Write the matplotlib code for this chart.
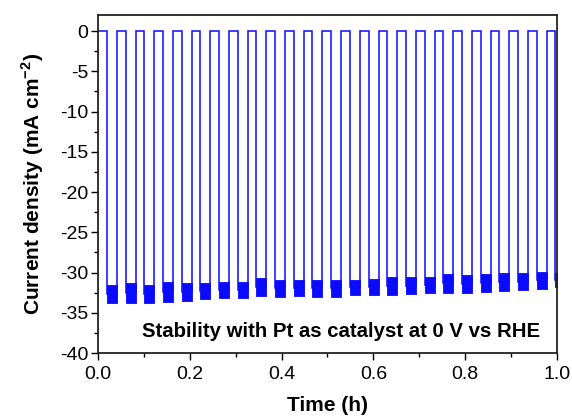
import matplotlib
matplotlib.use('Agg')
import matplotlib.pyplot as plt
from matplotlib.ticker import MultipleLocator
import numpy as np

plt.rcParams['font.family'] = ['Liberation Sans', 'DejaVu Sans']
plt.rcParams['mathtext.fontset'] = 'custom'
plt.rcParams['mathtext.rm'] = 'Liberation Sans'
plt.rcParams['mathtext.bf'] = 'Liberation Sans:bold'
plt.rcParams['axes.unicode_minus'] = False

# light-on start times (h) of each pulse
period = 0.0407
first_on = 0.0196
light_len = 0.0218
n_pulses = 25
on_times = [first_on + k * period for k in range(n_pulses)]

# top / bottom of the noisy photocurrent band during each light pulse (mA cm^-2)
band_top = [-31.6, -31.3, -31.6, -31.2, -31.3, -31.3, -31.2, -31.2, -30.7, -30.9,
            -30.9, -30.9, -30.9, -30.9, -30.8, -30.6, -30.6, -30.6, -30.2, -30.3,
            -30.2, -30.1, -30.1, -29.9, -30.0]
band_bot = [-33.8, -33.8, -33.8, -33.6, -33.5, -33.3, -33.2, -33.2, -32.9, -33.0,
            -32.9, -33.0, -33.0, -32.8, -32.8, -32.8, -32.7, -32.5, -32.5, -32.5,
            -32.4, -32.3, -32.2, -32.0, -31.8]

t_end = 1.0
blue = '#0a0aff'

fig = plt.figure(figsize=(5.72, 4.19), dpi=100)
ax = fig.add_axes([0.1713, 0.1575, 0.8025, 0.8067])

# square-wave outline
t = [0.0]
j = [0.0]
for k, ton in enumerate(on_times):
    toff = min(ton + light_len, t_end)
    mid = 0.5 * (band_top[k] + band_bot[k])
    t += [ton, ton, toff, toff]
    j += [0.0, mid, mid, 0.0 if toff < t_end else mid]
ax.plot(t, j, color=blue, lw=1.1, solid_joinstyle='miter')

# noisy band during light
for k, ton in enumerate(on_times):
    toff = min(ton + light_len, t_end)
    ax.fill_between([ton, toff], band_bot[k], band_top[k], color=blue, lw=0.6,
                    edgecolor=blue)

ax.set_xlim(0, 1.0)
ax.set_ylim(-40, 2)
ax.xaxis.set_major_locator(MultipleLocator(0.2))
ax.xaxis.set_minor_locator(MultipleLocator(0.1))
ax.yaxis.set_major_locator(MultipleLocator(5))
ax.yaxis.set_minor_locator(MultipleLocator(2.5))
ax.xaxis.set_major_formatter(matplotlib.ticker.FormatStrFormatter('%.1f'))
ax.tick_params(which='both', direction='out', top=False, right=False,
               labelsize=14, width=1.0)
ax.tick_params(which='major', length=5, pad=2)
ax.tick_params(axis='x', which='major', pad=4)
ax.tick_params(which='minor', length=3)
for s in ax.spines.values():
    s.set_linewidth(1.3)
    s.set_color('#222222')

ax.set_xlabel('Time (h)', fontsize=15, fontweight='bold', labelpad=10)
ax.set_ylabel(r'Current density (mA cm$^{\mathbf{-2}}$)', fontsize=15,
              fontweight='bold', labelpad=10)

ax.text(0.963, -37.3, 'Stability with Pt as catalyst at 0 V vs RHE',
        fontsize=14.7, fontweight='bold', ha='right', va='center')

fig.savefig('out.png', dpi=100)
